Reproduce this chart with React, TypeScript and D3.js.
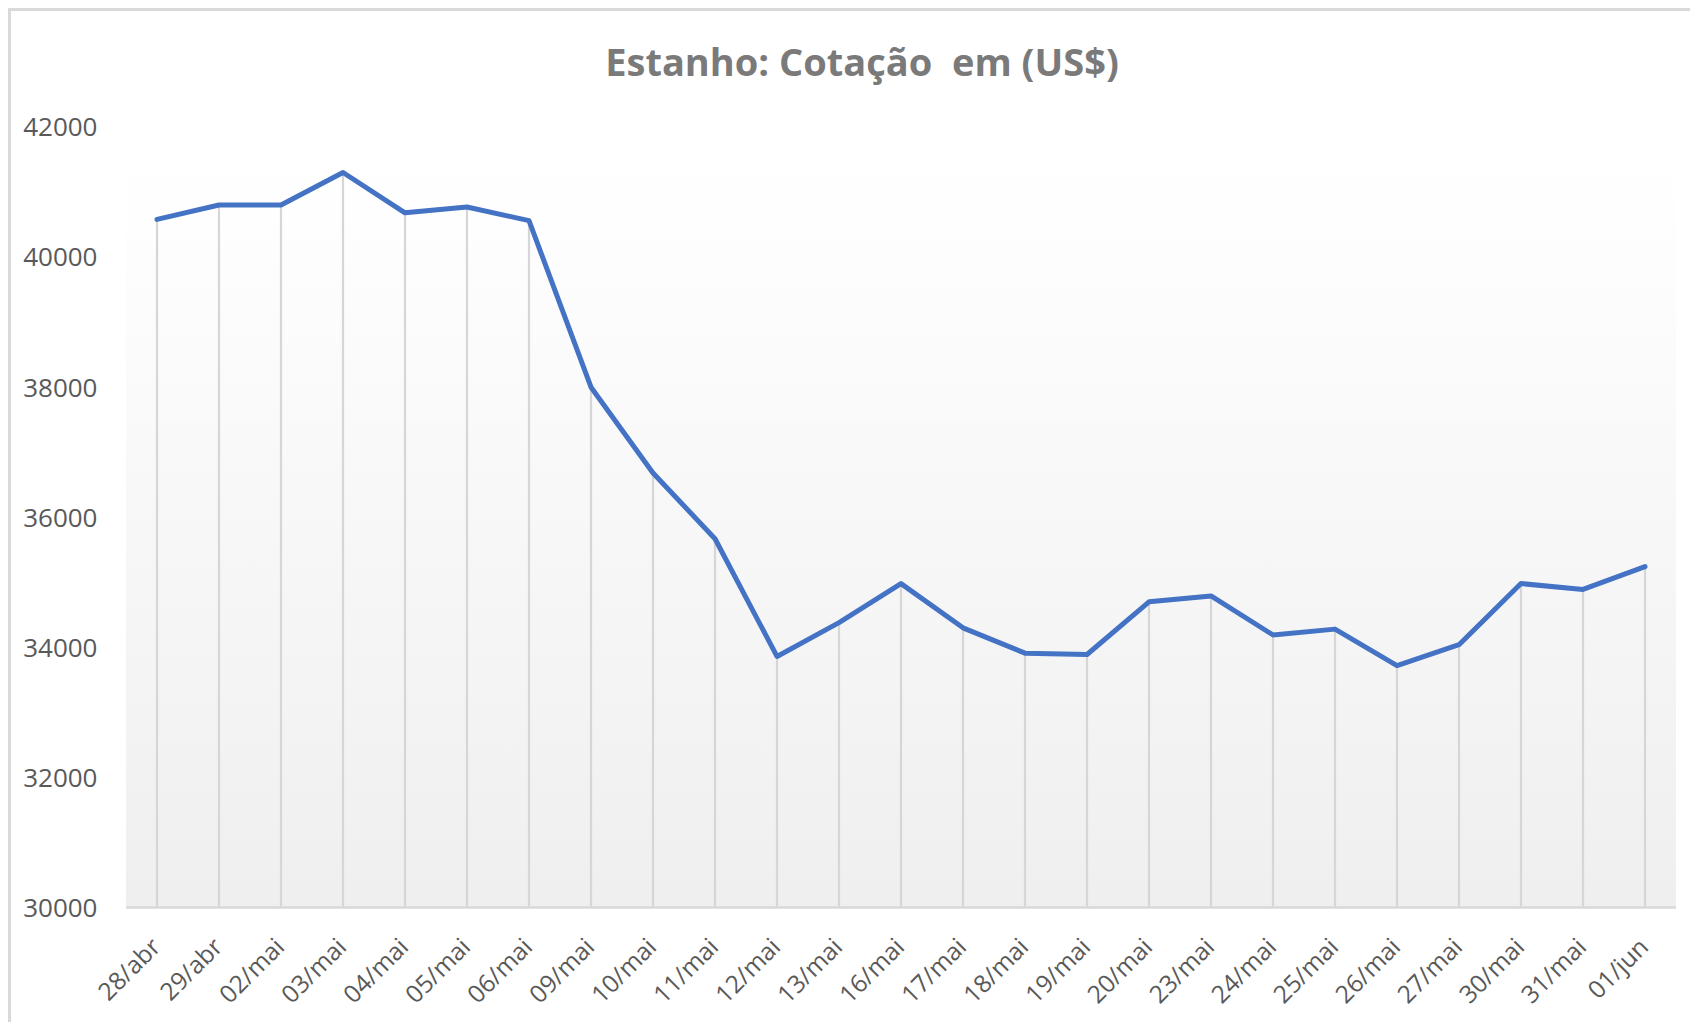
import React from "react";
import * as d3 from "d3";

const categories = [
  "28/abr", "29/abr", "02/mai", "03/mai", "04/mai", "05/mai", "06/mai",
  "09/mai", "10/mai", "11/mai", "12/mai", "13/mai", "16/mai", "17/mai",
  "18/mai", "19/mai", "20/mai", "23/mai", "24/mai", "25/mai", "26/mai",
  "27/mai", "30/mai", "31/mai", "01/jun",
];
const values = [
  40580, 40800, 40800, 41300, 40680, 40770, 40560,
  38000, 36680, 35670, 33860, 34380, 34980, 34300,
  33910, 33890, 34700, 34790, 34190, 34280, 33720,
  34040, 34980, 34890, 35240,
];
const yTicks = [30000, 32000, 34000, 36000, 38000, 40000, 42000];
const title = "Estanho: Cotação\u00a0 em (US$)";

const W = 1682;
const H = 1014;
const plotLeft = 118;
const plotRight = 1668;
const plotTop = 119;
const plotBottom = 899.5;
const font = "'Open Sans', 'Noto Sans', sans-serif";

export default function App() {
  const x = d3.scalePoint<string>().domain(categories).range([plotLeft, plotRight]).padding(0.5);
  const y = d3.scaleLinear().domain([30000, 42000]).range([plotBottom, plotTop]);
  const data = categories.map((c, i) => ({ c, v: values[i] }));
  const line = d3
    .line<{ c: string; v: number }>()
    .x((d) => x(d.c) as number)
    .y((d) => y(d.v));

  return (
    <svg width={W} height={H} style={{ display: "block" }} fontFamily={font}>
      <defs>
        <linearGradient id="bg" x1="0" y1="0" x2="0" y2="1">
          <stop offset="0" stopColor="#ffffff" />
          <stop offset="0.12" stopColor="#fefefe" />
          <stop offset="1" stopColor="#efefef" />
        </linearGradient>
      </defs>
      <rect x={0} y={0} width={W} height={H} fill="#ffffff" />
      {/* frame (left and top edges visible) */}
      <line x1={1.5} y1={0} x2={1.5} y2={H} stroke="#d9d9d9" strokeWidth={3} />
      <line x1={0} y1={1.5} x2={W} y2={1.5} stroke="#d9d9d9" strokeWidth={3} />

      <text
        x={854}
        y={67.5}
        textAnchor="middle"
        fontSize={38}
        fontWeight={700}
        fill="#7a7a7a"
      >
        {title}
      </text>

      <rect
        x={plotLeft}
        y={plotTop}
        width={plotRight - plotLeft}
        height={plotBottom - plotTop}
        fill="url(#bg)"
      />

      {/* drop lines */}
      {data.map((d) => (
        <line
          key={"drop-" + d.c}
          x1={x(d.c)}
          x2={x(d.c)}
          y1={y(d.v)}
          y2={plotBottom}
          stroke="#d6d6d6"
          strokeWidth={2.2}
        />
      ))}

      {/* category axis line */}
      <line
        x1={plotLeft}
        x2={plotRight}
        y1={plotBottom}
        y2={plotBottom}
        stroke="#d9d9d9"
        strokeWidth={2.5}
      />

      {/* y tick labels */}
      {yTicks.map((t) => (
        <text
          key={"yt-" + t}
          x={89.5}
          y={y(t)}
          dy="0.36em"
          textAnchor="end"
          fontSize={26}
          fill="#595959"
        >
          {t}
        </text>
      ))}

      {/* x tick labels */}
      {categories.map((c) => (
        <text
          key={"xt-" + c}
          transform={`translate(${(x(c) as number) + 5},${plotBottom + 41}) rotate(-45)`}
          textAnchor="end"
          fontSize={24.5}
          fill="#595959"
        >
          {c}
        </text>
      ))}

      <path
        d={line(data) || ""}
        fill="none"
        stroke="#4472c4"
        strokeWidth={5}
        strokeLinejoin="round"
        strokeLinecap="round"
      />
    </svg>
  );
}
